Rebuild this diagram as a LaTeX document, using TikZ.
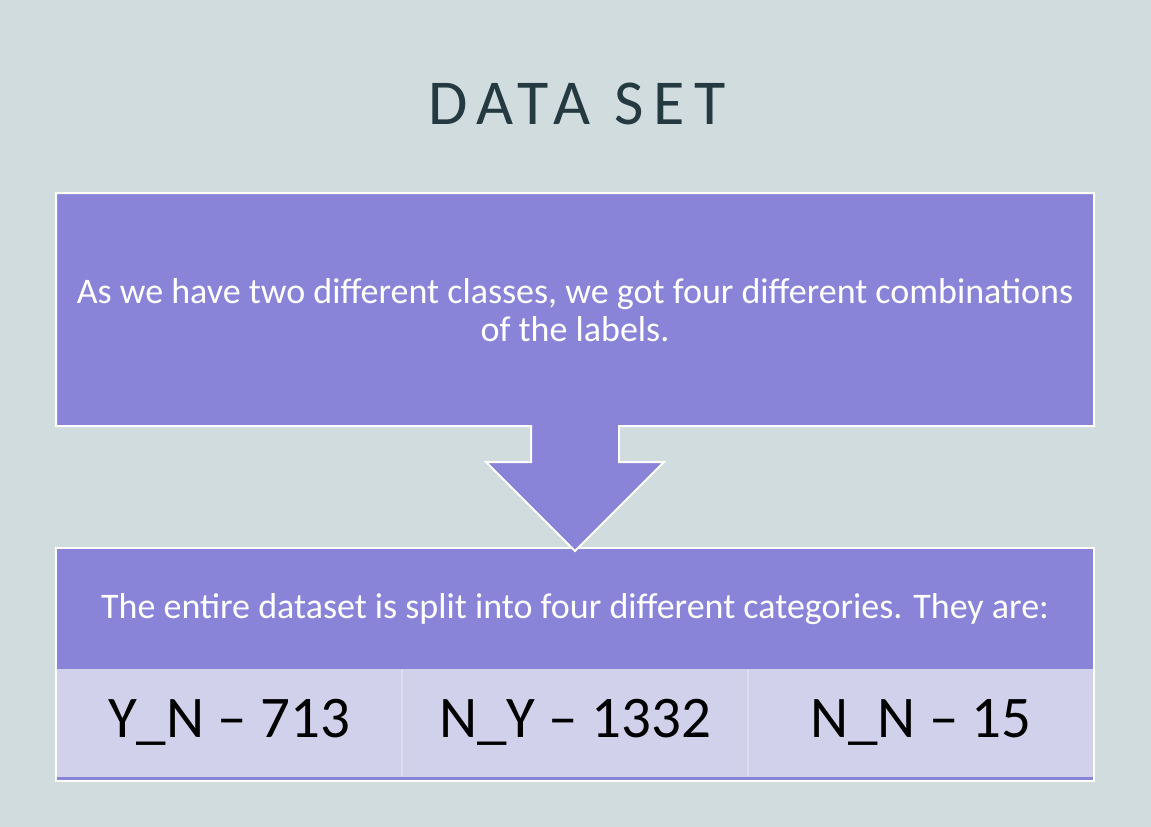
\documentclass[tikz,border=0pt]{standalone}
\usepackage{fontspec}
\setmainfont{Carlito}
\newfontfamily\titlefont[LetterSpace=15]{Carlito}
\definecolor{bgcol}{HTML}{D0DCDE}
\definecolor{boxcol}{HTML}{8984D8}
\definecolor{cellcol}{HTML}{D1D1EC}
\definecolor{titlecol}{HTML}{243A40}
\definecolor{sepcol}{HTML}{DEDDF2}
\tikzset{
  outline/.style={draw=white, line width=2pt},
  bodytext/.style={text=white, font=\fontsize{36}{38}\selectfont, align=center},
  celltext/.style={text=black, font=\fontsize{59}{60}\selectfont, anchor=center},
}
\begin{document}
\begin{tikzpicture}[x=1pt, y=-1pt]
  \useasboundingbox (0,0) rectangle (1151,827);
  \fill[bgcol] (0,0) rectangle (1151,827);

  % heading
  \node[text=titlecol, font=\fontsize{64}{70}\titlefont] (title) at (577,104) {DATA SET};

  % lower box: header band, three cells, bottom rule
  \fill[white] (55,547) rectangle (1095,782);
  \fill[boxcol] (57,549) rectangle (1093,669);
  \fill[cellcol] (57,669) rectangle (1093,777);
  \fill[boxcol] (57,777) rectangle (1093,780);
  \draw[sepcol, line width=1.5pt] (402,670) -- (402,776);
  \draw[sepcol, line width=1.5pt] (748,670) -- (748,776);

  \node[bodytext] (header) at (575,609) {The entire dataset is split into four different categories. They are:};
  \node[celltext] (yn) at (229,722) {Y\_N -- 713};
  \node[celltext] (ny) at (575,722) {N\_Y -- 1332};
  \node[celltext] (nn) at (921,722) {N\_N -- 15};

  % callout with down arrow
  \filldraw[fill=boxcol, outline, line join=miter]
    (56,193) -- (1094,193) -- (1094,426) -- (619,426) -- (619,462) -- (664,462)
    -- (575,551) -- (486,462) -- (531,462) -- (531,426) -- (56,426) -- cycle;
  \node[bodytext] (intro) at (575,310) {As we have two different classes, we got four different combinations\\of the labels.};
\end{tikzpicture}
\end{document}
